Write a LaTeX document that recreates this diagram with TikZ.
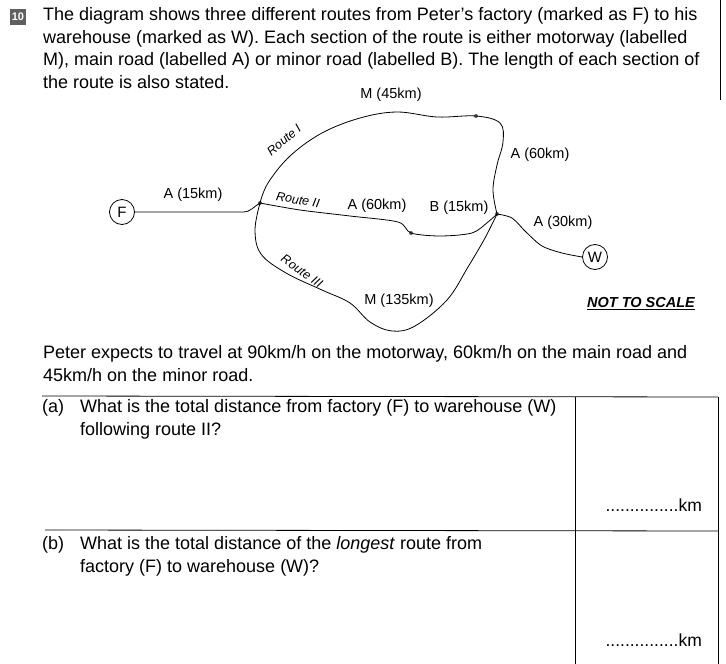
\documentclass[tikz,border=0pt]{standalone}
\usepackage{fontspec}
\setmainfont{Liberation Sans}
\begin{document}
\begin{tikzpicture}[x=1pt,y=-1pt,
  road/.style={line width=0.8pt},
  lbl/.style={font=\fontsize{14.5}{16}\selectfont, inner sep=0pt},
  rlbl/.style={font=\fontsize{12.5}{14}\selectfont\itshape, inner sep=0pt},
  body/.style={font=\fontsize{18}{22.8}\selectfont, inner sep=0pt, anchor=north west, align=left},
  place/.style={circle, draw, line width=0.8pt, minimum size=25pt, inner sep=0pt, font=\fontsize{15}{16}\selectfont},
  dot/.style={circle, fill=gray!70!black, minimum size=4pt, inner sep=0pt},
  rule/.style={line width=0.8pt}]
\useasboundingbox (0,0) rectangle (726,664);
% header
\node[fill=gray!75!black, text=white, font=\bfseries\fontsize{11}{11}\selectfont, minimum size=16pt, inner sep=0pt] (badge) at (18,17) {10};
\draw[rule] (720,0) -- (720,100);
\node[body] (intro) at (43,7) {The diagram shows three different routes from Peter’s factory (marked as F) to his\\
warehouse (marked as W). Each section of the route is either motorway (labelled\\
M), main road (labelled A) or minor road (labelled B). The length of each section of\\
the route is also stated.};
% places
\node[place] (F) at (122,212) {F};
\node[place] (W) at (595,257) {W};
\node[dot] (J1) at (260,203) {};
\node[dot] (J2) at (497,214) {};
\node[dot] (D1) at (476,116) {};
\node[dot] (D2) at (411,233) {};
% roads
\draw[road] (F) -- (243,212) to[out=0,in=-150] (J1.center);
\draw[road] plot[smooth, tension=0.6] coordinates {(J1.center) (268,183) (290,156) (322,133) (360,118) (397,112) (437,117) (D1.center) (500,123) (503,142) (497,165) (493,190) (J2.center)};
\draw[road] plot[smooth, tension=0.5] coordinates {(J1.center) (300,210) (350,216) (398,222) (D2.center) (440,236) (472,233) (488,222) (J2.center)};
\draw[road] plot[smooth, tension=0.6] coordinates {(J1.center) (255,230) (261,254) (286,273) (322,290) (350,303) (370,322) (392,331) (415,326) (447,300) (468,267) (485,238) (J2.center)};
\draw[road] plot[smooth, tension=0.5] coordinates {(J2.center) (512,218) (526,232) (542,246) (562,253) (W.west)};
% labels
\node[lbl] (l1) at (391,95) {M (45km)};
\node[lbl] (l2) at (540,155) {A (60km)};
\node[lbl] (l3) at (193,195) {A (15km)};
\node[lbl] (l4) at (377,206) {A (60km)};
\node[lbl] (l5) at (459,208) {B (15km)};
\node[lbl] (l6) at (563,223) {A (30km)};
\node[lbl] (l7) at (399,301) {M (135km)};
\node[rlbl, rotate=40] (r1) at (284,140) {Route I};
\node[rlbl, rotate=-10] (r2) at (298,200) {Route II};
\node[rlbl, rotate=-35] (r3) at (302,271) {Route III};
\node[font=\fontsize{14.5}{16}\selectfont\bfseries\itshape, inner sep=1pt] (nts) at (641,304) {\underline{NOT TO SCALE}};
% after text
\node[body] (exp) at (43,345) {Peter expects to travel at 90km/h on the motorway, 60km/h on the main road and\\
45km/h on the minor road.};
% table
\draw[rule] (42,396) -- (718,397);
\draw[rule] (45,530) -- (718,531);
\draw[rule] (575,397) -- (575,664);
\draw[rule] (718,397) -- (718,664);
\node[body] (qa) at (42,399) {(a)};
\node[body] (qat) at (80,399) {What is the total distance from factory (F) to warehouse (W)\\following route II?};
\node[font=\fontsize{17.5}{18}\selectfont, inner sep=0pt, anchor=east] (ka) at (702,505) {...............km};
\node[body] (qb) at (42,536) {(b)};
\node[body] (qbt) at (80,536) {What is the total distance of the \textit{longest} route from\\factory (F) to warehouse (W)?};
\node[font=\fontsize{17.5}{18}\selectfont, inner sep=0pt, anchor=east] (kb) at (702,640) {...............km};
\end{tikzpicture}
\end{document}
